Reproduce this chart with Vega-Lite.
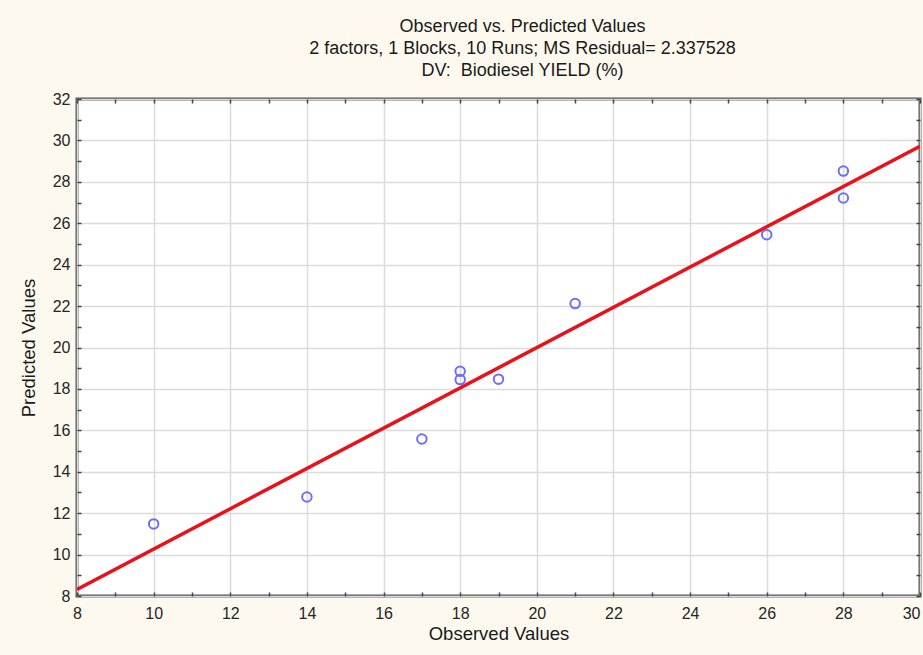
{
  "$schema": "https://vega.github.io/schema/vega-lite/v6.json",
  "width": 843,
  "height": 497,
  "autosize": "none",
  "padding": {"left": 77, "top": 99, "right": 3, "bottom": 59},
  "background": "#fdf9ef",
  "config": {
    "font": "Liberation Sans",
    "view": {"fill": "white", "stroke": "#555555", "strokeWidth": 3}
  },
  "title": {
    "text": ["Observed vs. Predicted Values", "2 factors, 1 Blocks, 10 Runs; MS Residual= 2.337528", "DV:\u00a0 Biodiesel YIELD (%)"],
    "fontSize": 18,
    "fontWeight": "normal",
    "color": "#1a1a1a",
    "lineHeight": 22,
    "anchor": "middle",
    "dx": 24,
    "offset": 11
  },
  "datasets": {
    "pts": [
      {"observed": 10, "predicted": 11.48},
      {"observed": 14, "predicted": 12.78},
      {"observed": 17, "predicted": 15.58},
      {"observed": 18, "predicted": 18.85},
      {"observed": 18, "predicted": 18.45},
      {"observed": 19, "predicted": 18.47},
      {"observed": 21, "predicted": 22.12},
      {"observed": 26, "predicted": 25.45},
      {"observed": 28, "predicted": 28.52},
      {"observed": 28, "predicted": 27.22}
    ],
    "fit": [
      {"observed": 8, "predicted": 8.32},
      {"observed": 30, "predicted": 29.72}
    ]
  },
  "resolve": {"axis": {"x": "independent", "y": "independent"}},
  "layer": [
    {
      "data": {"name": "fit"},
      "mark": {"type": "line", "color": "#e8121c", "strokeWidth": 3.5, "clip": true},
      "encoding": {
        "x": {
          "field": "observed", "type": "quantitative",
          "scale": {"domain": [8, 30], "nice": false, "zero": false},
          "axis": {"orient": "top", "title": null, "labels": false, "grid": false, "domain": false,
                   "values": [8, 9, 10, 11, 12, 13, 14, 15, 16, 17, 18, 19, 20, 21, 22, 23, 24, 25, 26, 27, 28, 29, 30],
                   "tickSize": -4, "tickWidth": 1.5, "tickColor": "#444444"}
        },
        "y": {
          "field": "predicted", "type": "quantitative",
          "scale": {"domain": [8, 32], "nice": false, "zero": false},
          "axis": {"orient": "right", "title": null, "labels": false, "grid": false, "domain": false,
                   "values": [8, 9, 10, 11, 12, 13, 14, 15, 16, 17, 18, 19, 20, 21, 22, 23, 24, 25, 26, 27, 28, 29, 30, 31, 32],
                   "tickSize": -4, "tickWidth": 1.5, "tickColor": "#444444"}
        }
      }
    },
    {
      "data": {"name": "pts"},
      "mark": {"type": "point", "shape": "circle", "filled": false, "color": "#6e6ef7", "strokeWidth": 2, "size": 90, "opacity": 1},
      "encoding": {
        "x": {
          "field": "observed", "type": "quantitative",
          "scale": {"domain": [8, 30], "nice": false, "zero": false},
          "axis": {
            "title": "Observed Values", "titleFontSize": 18.5, "titleFontWeight": "normal", "titleColor": "#1a1a1a", "titlePadding": 3,
            "values": [8, 9, 10, 11, 12, 13, 14, 15, 16, 17, 18, 19, 20, 21, 22, 23, 24, 25, 26, 27, 28, 29, 30],
            "labelExpr": "datum.value % 2 == 0 ? datum.label : ''",
            "labelFontSize": 16, "labelColor": "#262626", "labelPadding": 13,
            "labelAlign": {"condition": {"test": "datum.value == 30", "value": "right"}, "value": "center"},
            "tickSize": -4, "tickWidth": 1.5, "tickColor": "#444444", "domain": false,
            "grid": true, "gridColor": "#dcdcdc", "gridWidth": 1.5,
            "gridOpacity": {"condition": {"test": "datum.value % 2 == 1", "value": 0}, "value": 1}
          }
        },
        "y": {
          "field": "predicted", "type": "quantitative",
          "scale": {"domain": [8, 32], "nice": false, "zero": false},
          "axis": {
            "title": "Predicted Values", "titleFontSize": 18.5, "titleFontWeight": "normal", "titleColor": "#1a1a1a", "titlePadding": 14,
            "values": [8, 9, 10, 11, 12, 13, 14, 15, 16, 17, 18, 19, 20, 21, 22, 23, 24, 25, 26, 27, 28, 29, 30, 31, 32],
            "labelExpr": "datum.value % 2 == 0 ? datum.label : ''",
            "labelFontSize": 16, "labelColor": "#262626", "labelPadding": 11,
            "tickSize": -4, "tickWidth": 1.5, "tickColor": "#444444", "domain": false,
            "grid": true, "gridColor": "#dcdcdc", "gridWidth": 1.5,
            "gridOpacity": {"condition": {"test": "datum.value % 2 == 1", "value": 0}, "value": 1}
          }
        }
      }
    }
  ]
}
